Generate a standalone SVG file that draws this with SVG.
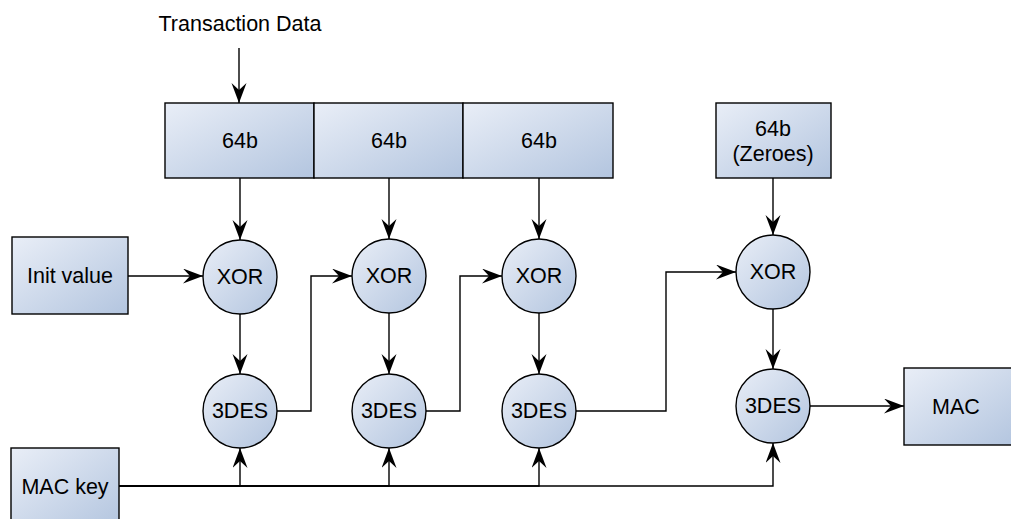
<svg xmlns="http://www.w3.org/2000/svg" width="1011" height="519" viewBox="0 0 1011 519">
<style>
.n{stroke:#000;stroke-width:1.4;fill:url(#g)}
.t{font-family:"Liberation Sans",Arial,sans-serif;font-size:21.5px;fill:#000;text-anchor:middle;dominant-baseline:central}
.e{fill:none;stroke:#000;stroke-width:1.4;marker-end:url(#a)}
</style>
<defs>
<linearGradient id="g" x1="0" y1="0" x2="1" y2="1">
<stop offset="0" stop-color="#e9eef7"/>
<stop offset="1" stop-color="#b3c5df"/>
</linearGradient>
<marker id="a" markerUnits="userSpaceOnUse" markerWidth="22" markerHeight="16" refX="20" refY="7.5" orient="auto">
<path d="M0,0 L20,7.5 L0,15 L7,7.5 z" fill="#000"/>
</marker>
</defs>
<text class="t" x="240" y="24">Transaction Data</text>
<g id="blk1"><rect class="n" x="165" y="103" width="149" height="75"/><text class="t" x="240" y="141">64b</text></g>
<g id="blk2"><rect class="n" x="314" y="103" width="149" height="75"/><text class="t" x="389" y="141">64b</text></g>
<g id="blk3"><rect class="n" x="463" y="103" width="150" height="75"/><text class="t" x="539" y="141">64b</text></g>
<g id="zero"><rect class="n" x="716" y="103" width="115" height="75"/><text class="t" x="773" y="129">64b</text><text class="t" x="773" y="154">(Zeroes)</text></g>
<g id="init"><rect class="n" x="12" y="237" width="116" height="77"/><text class="t" x="70" y="276">Init value</text></g>
<g id="mackey"><rect class="n" x="11" y="448" width="108" height="80"/><text class="t" x="65" y="487">MAC key</text></g>
<g id="mac"><rect class="n" x="904" y="368" width="112" height="77"/><text class="t" x="956" y="407">MAC</text></g>
<g id="xor1"><circle class="n" cx="240" cy="277" r="37"/><text class="t" x="240" y="277">XOR</text></g>
<g id="xor2"><circle class="n" cx="389" cy="276" r="37"/><text class="t" x="389" y="276">XOR</text></g>
<g id="xor3"><circle class="n" cx="539" cy="276" r="37"/><text class="t" x="539" y="276">XOR</text></g>
<g id="xor4"><circle class="n" cx="773" cy="272" r="37"/><text class="t" x="773" y="272">XOR</text></g>
<g id="des1"><circle class="n" cx="240" cy="411" r="37"/><text class="t" x="240" y="411">3DES</text></g>
<g id="des2"><circle class="n" cx="389" cy="411" r="37"/><text class="t" x="389" y="411">3DES</text></g>
<g id="des3"><circle class="n" cx="539" cy="411" r="37"/><text class="t" x="539" y="411">3DES</text></g>
<g id="des4"><circle class="n" cx="773" cy="406" r="37"/><text class="t" x="773" y="406">3DES</text></g>
<g id="connectors">
<path class="e" d="M239,48 V103"/>
<path class="e" d="M240,178 V240"/>
<path class="e" d="M389,178 V239"/>
<path class="e" d="M539,178 V239"/>
<path class="e" d="M773,178 V235"/>
<path class="e" d="M128,276 H203"/>
<path class="e" d="M240,314 V374"/>
<path class="e" d="M389,313 V374"/>
<path class="e" d="M539,313 V374"/>
<path class="e" d="M773,309 V369"/>
<path class="e" d="M277,411 H311 V276 H352"/>
<path class="e" d="M426,411 H460 V276 H502"/>
<path class="e" d="M576,411 H666 V272 H736"/>
<path class="e" d="M810,406 H904"/>
<path class="e" d="M119,486 H240 V448"/>
<path class="e" d="M119,486 H389 V448"/>
<path class="e" d="M119,486 H539 V448"/>
<path class="e" d="M119,486 H773 V443"/>
</g>
</svg>
